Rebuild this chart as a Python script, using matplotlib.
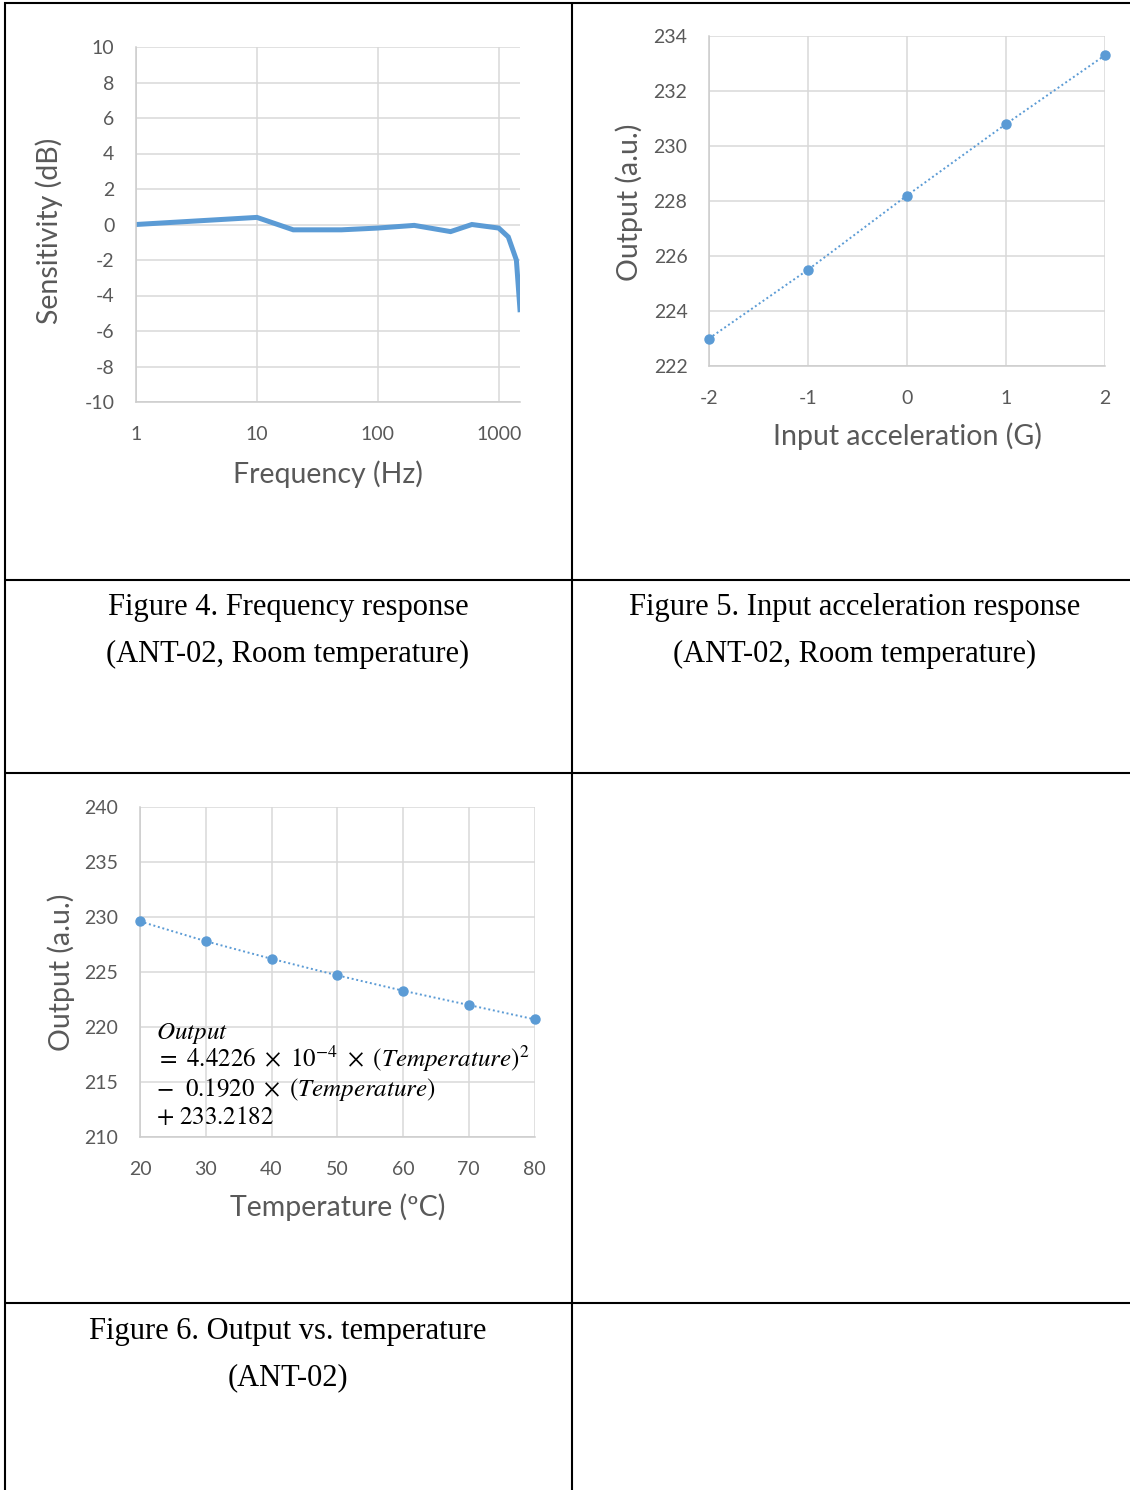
import matplotlib
matplotlib.use("Agg")
import matplotlib.pyplot as plt
from matplotlib.lines import Line2D

# Figure 4 - frequency response
freq_hz = [1, 10, 20, 50, 100, 200, 400, 600, 1000, 1200, 1400, 1500]
sens_db = [0.0, 0.4, -0.3, -0.3, -0.2, -0.05, -0.4, 0.0, -0.2, -0.7, -2.0, -4.8]
freq_ticks = [1, 10, 100, 1000]
sens_ticks = list(range(-10, 11, 2))

# Figure 5 - input acceleration response
accel_g = [-2, -1, 0, 1, 2]
accel_out = [223.0, 225.5, 228.2, 230.8, 233.3]
accel_yticks = list(range(222, 235, 2))

# Figure 6 - output vs temperature
temp_c = [20, 30, 40, 50, 60, 70, 80]
temp_out = [229.6, 227.8, 226.2, 224.7, 223.3, 222.0, 220.7]
temp_yticks = list(range(210, 241, 5))

captions = [
    ("Figure 4. Frequency response", "(ANT-02, Room temperature)"),
    ("Figure 5. Input acceleration response", "(ANT-02, Room temperature)"),
    ("Figure 6. Output vs. temperature", "(ANT-02)"),
]
equation = [
    r"$Output$",
    r"$=\ 4.4226\ \times\ 10^{-4}\ \times\ (Temperature)^2$",
    r"$-\ \ 0.1920\ \times\ (Temperature)$",
    r"$+\ 233.2182$",
]

W, H = 1130, 1490
BLUE = "#5B9BD5"
GRID = "#D9D9D9"
TXT = "#595959"
LABEL_SIZE = 20.5

plt.rcParams["font.family"] = ["Lato", "DejaVu Sans"]
plt.rcParams["axes.unicode_minus"] = False
plt.rcParams["mathtext.fontset"] = "stix"


def box(l, t, r, b):
    return [l / W, 1 - b / H, (r - l) / W, (b - t) / H]


def px(x, y):
    return x / W, 1 - y / H


def style_axes(ax):
    ax.grid(True, color=GRID, lw=1.1)
    ax.set_axisbelow(True)
    for side in ["top", "right"]:
        ax.spines[side].set_visible(False)
    for side in ["left", "bottom"]:
        ax.spines[side].set_color("#CCCCCC")
        ax.spines[side].set_linewidth(1.1)
    ax.tick_params(length=0, labelsize=14, labelcolor=TXT)
    ax.tick_params(axis="y", pad=15.5)
    ax.tick_params(axis="x", pad=17.0)


fig = plt.figure(figsize=(W / 100, H / 100), dpi=100)

# --- Figure 4
ax1 = fig.add_axes(box(136, 47, 520, 402))
ax1.plot(freq_hz, sens_db, color=BLUE, lw=3.6, solid_joinstyle="miter")
ax1.set_xscale("log")
ax1.set_xlim(1, 1500)
ax1.set_ylim(-10, 10)
ax1.set_xticks(freq_ticks)
ax1.set_xticklabels([str(t) for t in freq_ticks])
ax1.minorticks_off()
ax1.set_yticks(sens_ticks)
ax1.set_yticklabels([str(t) for t in sens_ticks])
style_axes(ax1)
fig.text(*px(49, 231), "Sensitivity (dB)", rotation=90, ha="center", va="center",
         fontsize=LABEL_SIZE, color=TXT)
fig.text(*px(328, 474), "Frequency (Hz)", ha="center", va="center",
         fontsize=LABEL_SIZE, color=TXT)

# --- Figure 5
ax2 = fig.add_axes(box(709, 36, 1105, 366))
ax2.plot(accel_g, accel_out, color=BLUE, lw=1.4, ls=(0, (1, 1.4)),
         marker="o", ms=6.5, clip_on=False, zorder=3)
ax2.set_xlim(-2, 2)
ax2.set_ylim(222, 234)
ax2.set_xticks(accel_g)
ax2.set_xticklabels([str(t) for t in accel_g])
ax2.set_yticks(accel_yticks)
style_axes(ax2)
fig.text(*px(629, 202), "Output (a.u.)", rotation=90, ha="center", va="center",
         fontsize=LABEL_SIZE, color=TXT)
fig.text(*px(907, 436), "Input acceleration (G)", ha="center", va="center",
         fontsize=LABEL_SIZE, color=TXT)

# --- Figure 6
ax3 = fig.add_axes(box(140, 807, 534.5, 1137))
ax3.plot(temp_c, temp_out, color=BLUE, lw=1.4, ls=(0, (1, 1.4)),
         marker="o", ms=6.5, clip_on=False, zorder=3)
ax3.set_xlim(20, 80)
ax3.set_ylim(210, 240)
ax3.set_xticks(temp_c)
ax3.set_yticks(temp_yticks)
style_axes(ax3)
fig.text(*px(61, 972), "Output (a.u.)", rotation=90, ha="center", va="center",
         fontsize=LABEL_SIZE, color=TXT)
fig.text(*px(338, 1207), "Temperature (ºC)", ha="center", va="center",
         fontsize=LABEL_SIZE, color=TXT)

for i, line in enumerate(equation):
    fig.text(*px(155.6, 1039 + 28.3 * i), line, ha="left", va="baseline",
             fontsize=18, color="black")

# --- captions
cap_pos = [(288, 607), (855, 607), (288, 1331)]
for (cx, cy), (l1, l2) in zip(cap_pos, captions):
    fig.text(*px(cx, cy), l1, ha="center", va="center", fontsize=22,
             family="Liberation Serif", color="black")
    fig.text(*px(cx, cy + 47), l2, ha="center", va="center", fontsize=22,
             family="Liberation Serif", color="black")

# --- table rules
rules = [
    ((4, 1130), (3, 3)),
    ((4, 1130), (580, 580)),
    ((4, 1130), (773.3, 773.3)),
    ((4, 1130), (1302.7, 1302.7)),
    ((5, 5), (2, 1490)),
    ((572, 572), (2, 1490)),
]
for xs, ys in rules:
    fig.add_artist(Line2D([x / W for x in xs], [1 - y / H for y in ys],
                          color="black", lw=1.5, solid_capstyle="butt"))

fig.savefig("out.png", dpi=100)
